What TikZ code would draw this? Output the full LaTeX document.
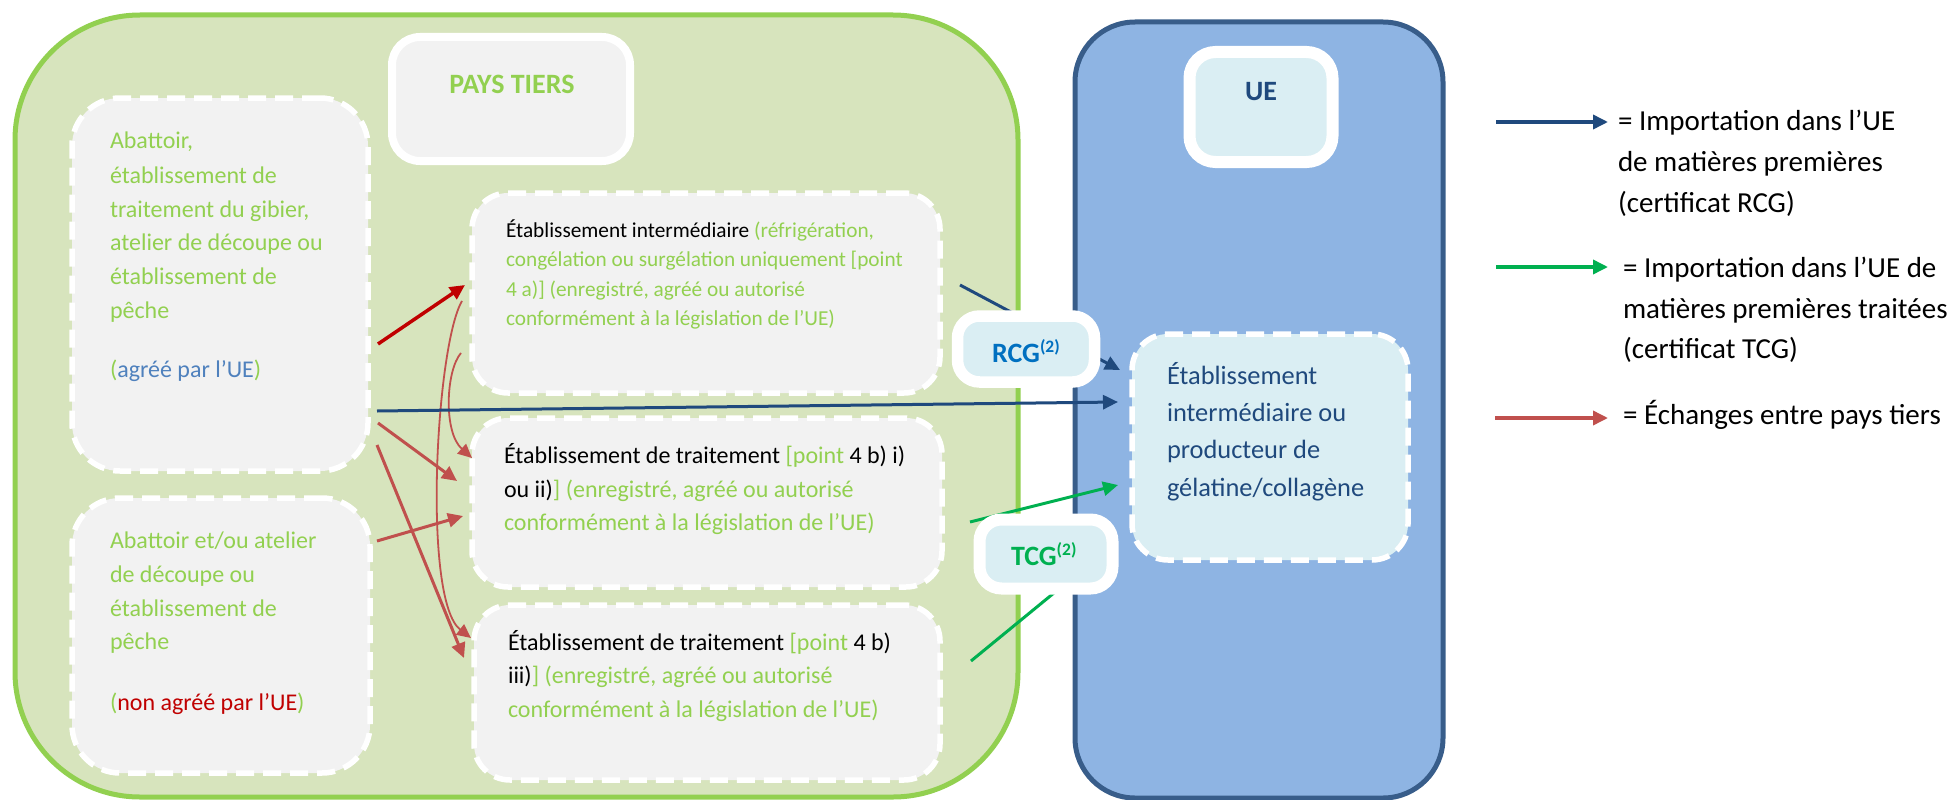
\documentclass[tikz,border=0pt]{standalone}
\usepackage{fontspec}
\setmainfont{Carlito}
\usetikzlibrary{arrows.meta}
\definecolor{gfill}{HTML}{D7E4BD}
\definecolor{gline}{HTML}{92D050}
\definecolor{bfill}{HTML}{8EB4E3}
\definecolor{bline}{HTML}{385D8A}
\definecolor{boxgrey}{HTML}{F2F2F2}
\definecolor{lblue}{HTML}{DAEEF3}
\definecolor{dblue}{HTML}{1F497D}
\definecolor{rcgblue}{HTML}{0070C0}
\definecolor{tgreen}{HTML}{00B050}
\definecolor{redar}{HTML}{C0504D}
\definecolor{dred}{HTML}{C00000}
\definecolor{mblue}{HTML}{4F81BD}
\newcommand\fsLeft{\fontsize{24pt}{34pt}\selectfont}
\newcommand\fsSmall{\fontsize{21.3pt}{29pt}\selectfont}
\newcommand\fsUEbox{\fontsize{26.4pt}{37pt}\selectfont}
\newcommand\fsLeg{\fontsize{29pt}{41pt}\selectfont}
\newcommand\fsHead{\fontsize{28pt}{30pt}\selectfont\bfseries}
\newcommand\fsSup{\fontsize{17.5pt}{18pt}\selectfont\bfseries}
\begin{document}
\begin{tikzpicture}[x=1pt,y=-1pt,
  dbox/.style={draw=white, line width=5.5pt, dash pattern=on 18pt off 9pt, fill=boxgrey, inner sep=0pt, outer sep=0pt},
  lbox/.style={draw=white, fill=#1, inner sep=0pt, outer sep=0pt},
  ln/.style={anchor=base west, inner sep=0pt, outer sep=0pt},
  lc/.style={anchor=base, inner sep=0pt, outer sep=0pt},
  thick arrow/.style={line width=3pt, -{Triangle[length=15pt,width=14pt]}},
  thin arrow/.style={line width=1.8pt, -{Triangle[length=14pt,width=13pt]}}
]
\useasboundingbox (0,0) rectangle (1955,800);

% big containers
\node[draw=gline, fill=gfill, line width=5pt, rounded corners=125pt, minimum width=1003pt, minimum height=782pt, inner sep=0pt] (pays) at (516.5,406) {};
\node[draw=bline, fill=bfill, line width=5pt, rounded corners=60pt, minimum width=368pt, minimum height=776pt, inner sep=0pt] (ue) at (1259,410) {};

% header boxes
\node[lbox=boxgrey, line width=8pt, rounded corners=28pt, minimum width=238pt, minimum height=124pt] (hpays) at (511,99) {};
\node[lbox=lblue, line width=12pt, rounded corners=26pt, minimum width=143pt, minimum height=110pt] (hue) at (1261,107) {};

% dashed boxes
\node[dbox, rounded corners=48pt, minimum width=296pt, minimum height=373pt] (L1) at (220,284.5) {};
\node[dbox, rounded corners=48pt, minimum width=298pt, minimum height=275pt] (L2) at (221,635.5) {};
\node[dbox, rounded corners=36pt, minimum width=468pt, minimum height=200pt] (A) at (706,293) {};
\node[dbox, rounded corners=36pt, minimum width=470pt, minimum height=169pt] (B) at (707,502.5) {};
\node[dbox, rounded corners=36pt, minimum width=466pt, minimum height=175pt] (C) at (707,692.5) {};
\node[dbox, fill=lblue, rounded corners=36pt, minimum width=276pt, minimum height=226pt] (D) at (1270,447) {};

% connector end points
\coordinate (r1s) at (378,344); \coordinate (r1e) at (465,285);
\coordinate (r2s) at (378,423); \coordinate (r2e) at (457,481);
\coordinate (r3s) at (377,445); \coordinate (r3e) at (464,658);
\coordinate (r4s) at (377,541); \coordinate (r4e) at (463,516);
\coordinate (c1s) at (462,301); \coordinate (c1e) at (471,638);
\coordinate (c2s) at (461,353); \coordinate (c2e) at (472,458);
\coordinate (b1s) at (377,411); \coordinate (b1e) at (1118,402);
\coordinate (b2s) at (960,285); \coordinate (b2e) at (1120,370);
\coordinate (g1s) at (970,522); \coordinate (g1e) at (1118,485);
\coordinate (g2s) at (971,661); \coordinate (g2e) at (1060,588);

% red arrows
\draw[thick arrow, dred, line width=3.5pt] (r1s) -- (r1e);
\draw[thick arrow, redar] (r2s) -- (r2e);
\draw[thick arrow, redar] (r3s) -- (r3e);
\draw[thick arrow, redar] (r4s) -- (r4e);
\draw[thin arrow, redar] (c1s) .. controls (436,345) and (422,600) .. (c1e);
\draw[thin arrow, redar] (c2s) .. controls (446,370) and (443,432) .. (c2e);

% blue arrows
\draw[thick arrow, dblue] (b1s) -- (b1e);
\draw[thick arrow, dblue] (b2s) -- (b2e);

% green arrows
\draw[thick arrow, tgreen] (g1s) -- (g1e);
\draw[line width=3pt, tgreen] (g2s) -- (g2e);

% certificate boxes
\node[lbox=lblue, line width=11.5pt, rounded corners=22pt, minimum width=137pt, minimum height=66pt] (rcg) at (1026,349) {};
\node[lbox=lblue, line width=12pt, rounded corners=22pt, minimum width=133pt, minimum height=69pt] (tcg) at (1046,554) {};
\node[ln, text=rcgblue] (rcgt) at (992,362) {\fsHead RCG\raisebox{10pt}{\fsSup (2)}};
\node[ln, text=tgreen] (tcgt) at (1011,565) {\fsHead TCG\raisebox{10pt}{\fsSup (2)}};

% headers
\node[lc, text=gline] (tpays) at (512,94) {\fsHead PAYS TIERS};
\node[lc, text=dblue] (tue) at (1261,100) {\fsHead UE};

% left box 1
\begin{scope}[every node/.append style={ln, text=gline, font=\fsLeft}]
\node (l1a) at (110,148) {Abattoir,};
\node (l1b) at (110,183) {établissement de};
\node (l1c) at (110,217) {traitement du gibier,};
\node (l1d) at (110,250) {atelier de découpe ou};
\node (l1e) at (110,284) {établissement de};
\node (l1f) at (110,318) {pêche};
\node (l1g) at (110,377) {(\textcolor{mblue}{agréé par l’UE})};
% left box 2
\node (l2a) at (110,548) {Abattoir et/ou atelier};
\node (l2b) at (110,582) {de découpe ou};
\node (l2c) at (110,616) {établissement de};
\node (l2d) at (110,649) {pêche};
\node (l2e) at (110,710) {(\textcolor{dred}{non agréé par l’UE})};
\end{scope}

% box A
\begin{scope}[every node/.append style={ln, text=gline, font=\fsSmall}]
\node (aa) at (506,237) {\textcolor{black}{Établissement intermédiaire} (réfrigération,};
\node (ab) at (506,266.5) {congélation ou surgélation uniquement [point};
\node (ac) at (506,296) {4 a)] (enregistré, agréé ou autorisé};
\node (ad) at (506,325) {conformément à la législation de l’UE)};
\end{scope}

% box B and C
\begin{scope}[every node/.append style={ln, text=black, font=\fsLeft}]
\node (ba) at (504,463) {Établissement de traitement \textcolor{gline}{[point} 4 b) i)};
\node (bb) at (504,497) {ou ii)\textcolor{gline}{] (enregistré, agréé ou autorisé}};
\node[text=gline] (bc) at (504,530) {conformément à la législation de l’UE)};
\node (ca) at (508,650) {Établissement de traitement \textcolor{gline}{[point} 4 b)};
\node (cb) at (508,683) {iii)\textcolor{gline}{] (enregistré, agréé ou autorisé}};
\node[text=gline] (cc) at (508,717) {conformément à la législation de l’UE)};
\end{scope}

% EU establishment
\begin{scope}[every node/.append style={ln, text=dblue, font=\fsUEbox}]
\node (da) at (1167,384) {Établissement};
\node (db) at (1167,421) {intermédiaire ou};
\node (dc) at (1167,458.5) {producteur de};
\node (dd) at (1167,496) {gélatine/collagène};
\end{scope}

% legend
\coordinate (k1s) at (1496,122); \coordinate (k1e) at (1608,122);
\coordinate (k2s) at (1496,267); \coordinate (k2e) at (1608,267);
\coordinate (k3s) at (1495,418); \coordinate (k3e) at (1608,418);
\draw[thick arrow, dblue, line width=3.5pt] (k1s) -- (k1e);
\draw[thick arrow, tgreen, line width=3.5pt] (k2s) -- (k2e);
\draw[thick arrow, redar, line width=3.5pt] (k3s) -- (k3e);
\begin{scope}[every node/.append style={ln, text=black, font=\fsLeg}]
\node (ka) at (1618,130) {= Importation dans l’UE};
\node (kb) at (1618,171) {de matières premières};
\node (kc) at (1618,212) {(certificat RCG)};
\node (kd) at (1623,277) {= Importation dans l’UE de};
\node (ke) at (1623,318) {matières premières traitées};
\node (kf) at (1623,358) {(certificat TCG)};
\node (kg) at (1623,424) {= Échanges entre pays tiers};
\end{scope}
\end{tikzpicture}
\end{document}
